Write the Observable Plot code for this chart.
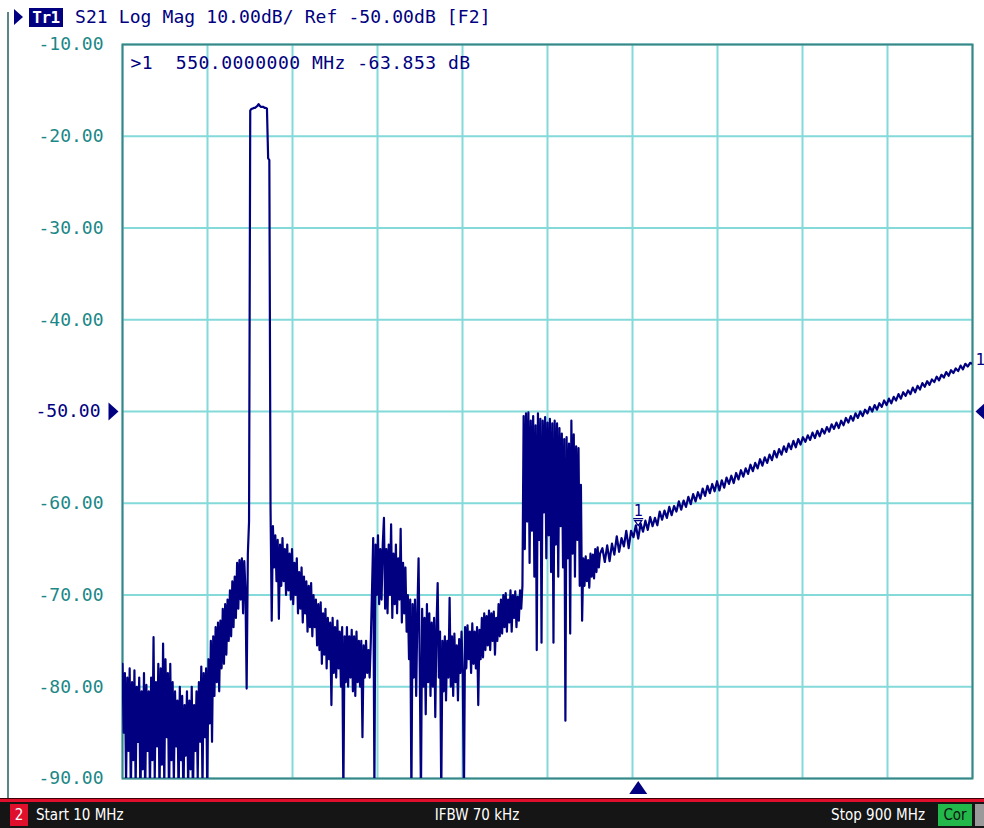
<!DOCTYPE html>
<html><head><meta charset="utf-8">
<script src="https://cdn.jsdelivr.net/npm/d3@7"></script>
<script src="https://cdn.jsdelivr.net/npm/@observablehq/plot@0.6"></script>
<style>
html,body{margin:0;padding:0;background:#fff;}
#wrap{position:relative;width:984px;height:828px;overflow:hidden;background:#fff;}
#chart svg text{white-space:pre;}
#leftline{position:absolute;left:7px;top:12px;width:2px;height:786px;background:#5a8686;}
#hdrtri{position:absolute;left:14px;top:9px;width:0;height:0;border-left:9px solid #000080;border-top:8px solid transparent;border-bottom:8px solid transparent;}
#trbox{position:absolute;left:29px;top:8px;width:34px;height:19px;background:#000080;color:#fff;font:bold 16px "DejaVu Sans Mono",monospace;line-height:19px;text-align:center;letter-spacing:-0.5px;}
#hdrtext{position:absolute;left:75px;top:7px;font:18px "DejaVu Sans Mono",monospace;line-height:20px;color:#000080;white-space:pre;letter-spacing:0.1px;}
#bar{position:absolute;left:0;top:798px;width:984px;height:30px;background:#151515;color:#fff;font-family:"DejaVu Sans Condensed","Liberation Sans Narrow",sans-serif;font-stretch:condensed;font-size:15px;}
#bar .topline{position:absolute;left:0;top:0;width:984px;height:1px;background:#3a0008;}
#bar .redline{position:absolute;left:0;top:1px;width:984px;height:3px;background:#e0102c;}
#bar span{position:absolute;top:6px;line-height:22px;white-space:pre;}
#chan{left:10px;width:18px;background:#e0102c;text-align:center;}
#start{left:36px;}
#ifbw{left:425px;width:104px;text-align:center;}
#stop{left:813px;width:112px;text-align:right;}
#cor{left:938px;width:34px;background:#22b84a;color:#111;text-align:center;}
#gray{left:975px;width:9px;background:#9a9a9a;}
</style>
</head>
<body>
<div id="wrap">
  <div id="chart"></div>
  <div id="leftline"></div>
  <div id="hdrtri"></div>
  <div id="trbox">Tr1</div>
  <div id="hdrtext"></div>
  <div id="bar">
    <div class="topline"></div><div class="redline"></div>
    <span id="chan">2</span>
    <span id="start"></span>
    <span id="ifbw"></span>
    <span id="stop"></span>
    <span id="cor">Cor</span>
    <span id="gray"> </span>
  </div>
</div>
<script>
// ---- data ----
const startMHz = 10;
const stopMHz = 900;
const ifbwKHz = 70;
const refLevel = -50;
const scaleDiv = 10;
const yTicks = [-10, -20, -30, -40, -50, -60, -70, -80, -90];
const gridFreqs = [10, 99, 188, 277, 366, 455, 544, 633, 722, 811, 900];
const markerFreq = 550;
const markerValue = -63.853;

// S21 (dB), 10 – 510 MHz, one reading every 1.25 MHz
const band1Start = 10, band1Step = 1.25;
const s21Band1 = [
  -77.5, -85, -78.5, -90.5, -79, -87, -78, -92, -79.5, -88,            // 0
  -78.2, -91, -80, -86, -79, -93, -80.5, -89, -78.5, -92,              // 10
  -79.8, -87, -80.5, -91.5, -79, -88, -74.6, -90, -79.5, -86.5,        // 20
  -77.5, -92, -78, -88.5, -75.3, -91, -77, -85.5, -78.5, -93,          // 30
  -77.5, -88, -79.5, -90.5, -80.5, -86.5, -81.5, -92, -80, -88,        // 40
  -81, -93, -82, -87.5, -80.5, -91, -81.5, -89, -80, -92.5,            // 50
  -82, -87, -80.5, -90, -79.5, -86, -77.8, -91, -78.5, -85.5,          // 60
  -78, -92, -77, -84, -75, -86, -74.5, -81, -73.5, -79.5,              // 70
  -73, -80.5, -72.8, -78, -71.5, -77.5, -71, -76.5, -70.5, -75,        // 80
  -69.5, -74.5, -68.5, -73.5, -68, -72.5, -66.5, -71.5, -66.2, -70.5,  // 90
  -66, -72, -66.3, -69.5, -80.2, -65.5, -62, -17.2, -17.0, -17.0,      // 100
  -16.9, -16.9, -16.8, -16.7, -16.5, -16.7, -16.8, -16.8, -16.8, -16.9, // 110
  -16.9, -17.0, -22.4, -22.6, -60.5, -72.8, -62.5, -67, -63.5, -68.5,  // 120
  -64, -72.6, -64.5, -69, -63.8, -68.5, -65, -70, -64.5, -69.5,        // 130
  -65.5, -70.5, -65, -71, -66.5, -70, -66, -72, -67.5, -71.5,          // 140
  -67, -73, -68, -72, -68.5, -74, -69, -73.5, -68.7, -74.5,            // 150
  -70, -73.5, -70.5, -75.5, -71, -76, -70.8, -77.5, -72, -76.5,        // 160
  -71.5, -78, -72.5, -77, -73, -82, -72.5, -78.5, -73.5, -79,          // 170
  -72.8, -78, -74, -80, -73.5, -92, -74.5, -79.5, -73.5, -80,          // 180
  -74.5, -79, -73.8, -80.5, -74.5, -81, -74, -79.5, -75, -80,          // 190
  -75, -85.5, -75.5, -79, -75, -78.5, -76, -79, -75, -69.5,            // 200
  -63.8, -91, -64.5, -70, -63.5, -71, -65, -70.5, -64.5, -61.6,        // 210
  -71.5, -65, -72, -64.5, -70, -62.3, -72.5, -65.5, -71, -64.5,        // 220
  -72, -66, -70.5, -62.8, -73, -66.5, -72, -67, -74, -70,              // 230
  -77, -70.5, -92, -71, -79, -70.5, -81, -72, -66, -78,                // 240
  -92, -71.5, -80, -72.5, -83, -71, -79.5, -72, -81, -73,              // 250
  -80, -72.5, -83.3, -73.5, -68.7, -79, -74, -92, -75, -80.5,          // 260
  -74.5, -81.5, -75, -79, -70.3, -80, -74.5, -81, -74.2, -79.5,        // 270
  -75.5, -81.5, -74.8, -78.5, -74, -78.6, -92, -73.5, -78, -73.3,      // 280
  -77, -74, -78.5, -73.1, -77.5, -74, -78, -73.5, -82, -73.8,          // 290
  -77, -72.5, -76.8, -72, -76, -72.3, -75.5, -71.7, -76, -72,          // 300
  -75, -71.8, -76.5, -72.5, -75, -71, -74.5, -70.5, -74.2, -70,        // 310
  -73.5, -69.8, -74, -70.5, -73, -69.5, -74, -70, -72.5, -69.6,        // 320
  -73.5, -70.2, -72.8, -69.5, -71.5, -69, -50.5, -65, -50.2, -62,      // 330
  -50.1, -66.5, -51, -63, -50.5, -68, -51.5, -76, -50.2, -64,          // 340
  -50.8, -75.2, -51, -61, -50.6, -66, -51.2, -63.5, -50.8, -67.5,      // 350
  -51.3, -75.2, -51, -64.5, -51.3, -68, -51.8, -62.5, -52.4, -67,      // 360
  -53, -83.7, -52.8, -66, -53.5, -74.2, -51, -65.5, -52.5, -68,        // 370
  -53.8, -64, -54, -69, -58, -72.8, -66, -69, -65.8, -68.5,            // 380
  -66.2, -69.2, -65.5, -68, -65.6, -68.2, -65, -67.5, -64.8, -67,      // 390
  -65.5                                                                 // 400
];

// S21 (dB), 512.5 – 900 MHz, one reading every 2.5 MHz
const band2Start = 512.5, band2Step = 2.5;
const s21Band2 = [
  -64.9, -66.4, -64.6, -66.3, -64.4, -65.6, -63.6, -65.3, -63.8,
  -64.7, -63.0, -64.9, -63.0, -63.7, -62.4, -63.85, -62.2, -63.1, -61.9,
  -62.9, -61.5, -62.5, -61.6, -62.4, -60.9, -61.8, -60.8, -61.6, -60.4,
  -61.3, -60.3, -60.9, -59.8, -60.7, -59.7, -60.4, -59.3, -60.1, -59.0,
  -59.8, -58.8, -59.5, -58.4, -59.2, -58.1, -58.9, -57.9, -58.7, -57.6,
  -58.6, -57.5, -58.3, -57.2, -57.9, -57.0, -57.8, -56.7, -57.4, -56.4,
  -57.1, -56.2, -56.8, -55.8, -56.5, -55.6, -56.2, -55.2, -55.9, -55.0,
  -55.6, -54.7, -55.3, -54.3, -55.0, -54.1, -54.7, -53.8, -54.4, -53.5,
  -54.1, -53.2, -53.9, -53.0, -53.6, -52.8, -53.3, -52.6, -53.1, -52.3,
  -52.9, -52.1, -52.7, -51.9, -52.4, -51.7, -52.2, -51.4, -51.9, -51.2,
  -51.8, -51.0, -51.5, -50.7, -51.2, -50.5, -51.0, -50.2, -50.7, -50.0,
  -50.5, -49.8, -50.2, -49.5, -50.0, -49.3, -49.8, -49.1, -49.5, -48.8,
  -49.3, -48.6, -49.1, -48.4, -48.8, -48.1, -48.6, -47.9, -48.3, -47.7,
  -48.1, -47.4, -47.9, -47.2, -47.6, -46.9, -47.3, -46.7, -47.1, -46.5,
  -46.8, -46.2, -46.6, -46.0, -46.3, -45.7, -46.1, -45.5, -45.8, -45.3,
  -45.6, -45.0, -45.4, -44.8, -45.1, -44.7, -44.8
];

// ---- build ----
const navy = "#000080", teal = "#1b8787", gridCol = "#84d9d9", frameCol = "#3a8585";
const trace = [
  ...s21Band1.map((v, j) => ({f: band1Start + j * band1Step, db: v})),
  ...s21Band2.map((v, j) => ({f: band2Start + j * band2Step, db: v}))
];
const marker = {f: markerFreq, db: markerValue};

const triRight = {draw(c) { c.moveTo(-5, -9); c.lineTo(5, 0); c.lineTo(-5, 9); c.closePath(); }};
const triLeft = {draw(c) { c.moveTo(5, -9); c.lineTo(-5, 0); c.lineTo(5, 9); c.closePath(); }};
const triUp = {draw(c) { c.moveTo(-9, 6.5); c.lineTo(0, -6.5); c.lineTo(9, 6.5); c.closePath(); }};
const markerGlyph = {draw(c) {
  c.moveTo(-5, -20); c.lineTo(5, -20);
  c.moveTo(-3.5, -18); c.lineTo(3.5, -18); c.lineTo(0, -13); c.closePath();
}};

const chart = Plot.plot({
  width: 984, height: 798,
  marginLeft: 122, marginRight: 12, marginTop: 44, marginBottom: 20,
  x: {domain: [startMHz, stopMHz], axis: null},
  y: {domain: [-90, -10], axis: null},
  style: {fontFamily: "'DejaVu Sans Mono', monospace", fontSize: "18px", background: "white", overflow: "visible"},
  marks: [
    Plot.ruleX(gridFreqs, {stroke: gridCol, strokeWidth: 2}),
    Plot.ruleY(yTicks, {stroke: gridCol, strokeWidth: 2}),
    Plot.frame({stroke: frameCol, strokeWidth: 2}),
    Plot.text(yTicks.filter(d => d !== refLevel), {x: () => startMHz, y: d => d, text: d => d.toFixed(2), textAnchor: "end", dx: -19, fill: teal, fontSize: 18}),
    Plot.text([refLevel], {x: () => startMHz, y: d => d, text: d => d.toFixed(2), textAnchor: "end", dx: -22, fill: navy, fontSize: 18}),
    Plot.dot([refLevel], {x: () => startMHz, y: d => d, dx: -9, symbol: triRight, fill: navy, stroke: null}),
    Plot.dot([refLevel], {x: () => stopMHz, y: d => d, dx: 8, symbol: triLeft, fill: navy, stroke: null}),
    Plot.dot([marker], {x: "f", y: () => -90, dy: 9, symbol: triUp, fill: navy, stroke: null}),
    Plot.line(trace, {x: "f", y: "db", stroke: navy, strokeWidth: 2.2, strokeLinejoin: "round", clip: true}),
    Plot.text([marker], {frameAnchor: "top-left", lineAnchor: "middle", textAnchor: "start", dx: 8, dy: 19, fill: navy, fontSize: 18,
      text: d => `>1  ${d.f.toFixed(7)} MHz ${d.db.toFixed(3)} dB`}),
    Plot.dot([marker], {x: "f", y: "db", symbol: markerGlyph, stroke: navy, fill: "none", strokeWidth: 1.2}),
    Plot.text([marker], {x: "f", y: "db", text: () => "1", dy: -27, fill: navy, fontSize: 15}),
    Plot.text([trace[trace.length - 1]], {x: "f", y: "db", text: () => "1", dx: 3, dy: -4, textAnchor: "start", fill: navy, fontSize: 16})
  ]
});
d3.select(chart).selectAll("text").each(function() {
  if (this.textContent.startsWith(">1")) this.setAttribute("letter-spacing", "0.5");
});
document.getElementById("chart").appendChild(chart);

document.getElementById("hdrtext").textContent = `S21 Log Mag ${scaleDiv.toFixed(2)}dB/ Ref ${refLevel.toFixed(2)}dB [F2]`;
document.getElementById("start").textContent = `Start ${startMHz} MHz`;
document.getElementById("ifbw").textContent = `IFBW ${ifbwKHz} kHz`;
document.getElementById("stop").textContent = `Stop ${stopMHz} MHz`;
</script>
</body></html>
